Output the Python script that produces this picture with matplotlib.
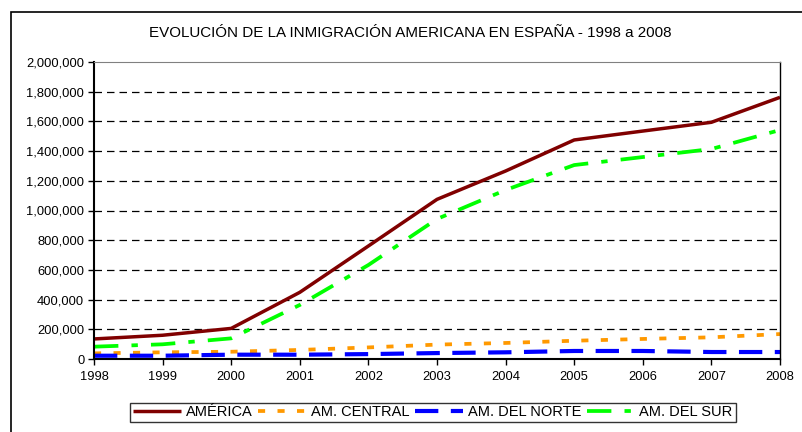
import matplotlib
matplotlib.use('Agg')
import matplotlib.pyplot as plt
from matplotlib.ticker import FuncFormatter
from matplotlib.patches import Rectangle

# ---------------------------------------------------------------
# Datos
# ---------------------------------------------------------------
years = [1998, 1999, 2000, 2001, 2002, 2003, 2004, 2005, 2006, 2007, 2008]
america = [135000, 160000, 206000, 449000, 761000, 1075000, 1266000, 1475000, 1535000, 1594000, 1762000]
central = [38000, 45000, 49000, 61000, 78000, 97000, 108000, 123000, 135000, 146000, 168000]
norte = [22000, 22000, 29000, 29000, 33000, 40000, 45000, 54000, 54000, 47000, 47000]
sur = [83000, 99000, 139000, 364000, 633000, 943000, 1138000, 1306000, 1360000, 1414000, 1542000]

plt.rcParams['font.family'] = ['Liberation Sans', 'DejaVu Sans']

fig = plt.figure(figsize=(8.03, 4.32), dpi=100)
ax = fig.add_axes([94/803, 73/432, 686/803, 297/432])

# marco exterior
fig.patches.append(Rectangle((11/803, -0.1), 1.2, (432-12)/432 + 0.1, transform=fig.transFigure,
                             fill=False, edgecolor='black', linewidth=1.2))

ax.plot(years, america, color='#800000', linewidth=2.5, solid_capstyle='butt', label='AMÉRICA')
ax.plot(years, central, color='#FF9900', linewidth=2.7, linestyle=(0, (1.9, 3.3)), label='AM. CENTRAL')
ax.plot(years, norte, color='#0000FF', linewidth=3.0, linestyle=(0, (5.6, 3.0)), label='AM. DEL NORTE')
ax.plot(years, sur, color='#00FF00', linewidth=2.7, linestyle=(0, (6.5, 3.5, 1.7, 3.5)), label='AM. DEL SUR')

ax.set_xlim(1998, 2008)
ax.set_ylim(0, 2000000)
ax.set_xticks(years)
ax.set_yticks(range(0, 2000001, 200000))
ax.yaxis.set_major_formatter(FuncFormatter(lambda v, p: '{:,.0f}'.format(v)))
ax.tick_params(labelsize=9.3, length=4, width=1, direction='out', pad=3)
ax.tick_params(axis='x', pad=5)

for v in range(200000, 2000000, 200000):
    ax.axhline(v, color='black', linewidth=0.9, linestyle=(0, (6, 4)), zorder=0)

ax.spines['left'].set_linewidth(1.5)
ax.spines['bottom'].set_linewidth(1.5)
ax.spines['right'].set_linewidth(1.0)
ax.spines['top'].set_color('#808080')

fig.text(0.511, 1 - 33/432, 'EVOLUCIÓN DE LA INMIGRACIÓN AMERICANA EN ESPAÑA - 1998 a 2008',
         ha='center', va='center', fontsize=10.9)

leg = ax.legend(loc='center', bbox_to_anchor=(433/803, 1 - 412.5/432), bbox_transform=fig.transFigure,
                ncol=4, fontsize=10.5, frameon=True, fancybox=False, edgecolor='black',
                handlelength=3.3, handletextpad=0.3, columnspacing=0.4, borderpad=0.2,
                borderaxespad=0)
leg.get_frame().set_linewidth(1.0)

plt.savefig('out.png', dpi=100)
